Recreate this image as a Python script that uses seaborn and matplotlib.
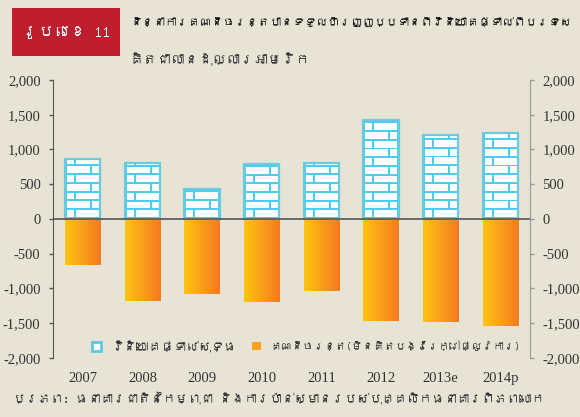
import numpy as np
import pandas as pd
import matplotlib
matplotlib.use('Agg')
import matplotlib.pyplot as plt
import seaborn as sns
from matplotlib import font_manager
from matplotlib.ft2font import FT2Font
from matplotlib.patches import Rectangle, Patch
from matplotlib.colors import LinearSegmentedColormap
from matplotlib.ticker import FuncFormatter

# data (million USD)
years = ['2007', '2008', '2009', '2010', '2011', '2012', '2013e', '2014p']
fdi = [868, 801, 432, 791, 801, 1424, 1209, 1242]
current_acc = [-662, -1180, -1074, -1190, -1031, -1468, -1482, -1535]

fdi_label = 'វិនិយោគផ្ទាល់សុទ្ធ'
ca_label = 'គណនីចរន្ត(មិនគិតបង្វែរក្រៅផ្លូវការ)'
fig_label = 'រូបលេខ 11'
title = 'និន្នាការគណនីចរន្តបានទទួលហិរញ្ញប្បទានពីវិនិយោគផ្ទាល់ពីបរទេស'
unit = 'គិតជាលានដុល្លារអាមេរិក'
source = 'ប្រភព: ធនាគារជាតិនៃកម្ពុជា និងការប៉ាន់ស្មានរបស់បុគ្គលិកធនាគារពិភពលោក'

bg = '#E7E4D5'
sns.set_style('ticks', {'axes.facecolor': bg, 'figure.facecolor': bg})


def khmer_family():
    for f in font_manager.fontManager.ttflist:
        try:
            if 0x1780 in FT2Font(f.fname).get_charmap():
                return f.name
        except Exception:
            pass
    return None


kh = khmer_family()
kh_fam = [kh, 'DejaVu Sans'] if kh else ['DejaVu Sans']
num_font = 'Liberation Serif'

df = pd.DataFrame({
    'year': years * 2,
    'value': fdi + current_acc,
    'series': [fdi_label] * len(years) + [ca_label] * len(years),
})

fig = plt.figure(figsize=(5.8, 4.17), dpi=100)
fig.patch.set_facecolor(bg)
ax = fig.add_axes([0.0914, 0.1415, 0.8224, 0.6667])

sns.barplot(data=df, x='year', y='value', hue='series', hue_order=[fdi_label, ca_label],
            dodge=False, width=0.59, errorbar=None, legend=False, ax=ax)

row_h = 125
mortar = np.array([0.30, 0.80, 0.94])

def brick_img(nrows, pw=35, ph=9):
    img = np.ones((nrows * ph, pw, 3))
    for r in range(nrows):
        y0 = r * ph
        img[y0:y0 + 2, :] = mortar
        xs = 9 if r % 2 == 0 else 24
        img[y0:y0 + ph, xs:xs + 2] = mortar
    img[:, :2] = mortar
    img[:, -2:] = mortar
    return img

grad_cmap = LinearSegmentedColormap.from_list('og', ['#FFC412', '#F47A22'])

for p in ax.containers[0]:
    x0, w, h = p.get_x(), p.get_width(), p.get_height()
    n = int(np.ceil(h / row_h))
    im = ax.imshow(brick_img(n), extent=(x0, x0 + w, 0, n * row_h), origin='lower',
                   aspect='auto', interpolation='nearest', zorder=3)
    im.set_clip_path(p)
    p.set_facecolor('none')
    p.set_edgecolor('#6ACBE0')
    p.set_linewidth(1.6)
    p.set_zorder(4)

for p in ax.containers[1]:
    x0, y0, w, h = p.get_x(), p.get_y(), p.get_width(), p.get_height()
    im = ax.imshow(np.linspace(0, 1, 64).reshape(1, -1), cmap=grad_cmap,
                   extent=(x0, x0 + w, y0, y0 + h), aspect='auto', zorder=3)
    im.set_clip_path(p)
    p.set_facecolor('none')
    p.set_edgecolor('none')

ax.axhline(0, color='#555555', lw=1.2, zorder=5)

yt = [-2000, -1500, -1000, -500, 0, 500, 1000, 1500, 2000]
fmt = FuncFormatter(lambda v, pos: f'{int(v):,}')
ax.set_xlim(-0.5, 7.5)
ax.set_ylim(-2000, 2000)
ax.set_yticks(yt)
ax.yaxis.set_major_formatter(fmt)
ax.set_xlabel('')
ax.set_ylabel('')
for s in ['top', 'bottom', 'right']:
    ax.spines[s].set_visible(False)
ax.spines['left'].set_color('#555555')
ax.tick_params(axis='y', direction='out', length=3, width=1, color='#555555',
               labelsize=10.5, labelcolor='#333333', pad=6)
ax.tick_params(axis='x', length=0, labelsize=10.5, labelcolor='#333333', pad=10)
for t in ax.get_xticklabels() + ax.get_yticklabels():
    t.set_family(num_font)

ax2 = ax.twinx()
ax2.set_ylim(-2000, 2000)
ax2.set_yticks(yt)
ax2.yaxis.set_major_formatter(fmt)
for s in ['top', 'bottom', 'left']:
    ax2.spines[s].set_visible(False)
ax2.spines['right'].set_color('#999999')
ax2.tick_params(axis='y', direction='out', length=3, width=1, color='#999999',
                labelsize=10.5, labelcolor='#333333', pad=6)
for t in ax2.get_yticklabels():
    t.set_family(num_font)

# legend
h1 = Patch(facecolor='white', edgecolor='#5CC8E6', linewidth=2)
h2 = Patch(facecolor='#F9A11C', edgecolor='none')
l1 = fig.legend(handles=[h1], labels=[fdi_label], loc='center left',
                bbox_to_anchor=(0.14, 0.17), frameon=False, handlelength=0.7,
                handleheight=0.7, handletextpad=0.8, prop={'family': kh_fam, 'size': 9})
l2 = fig.legend(handles=[h2], labels=[ca_label], loc='center left',
                bbox_to_anchor=(0.415, 0.17), frameon=False, handlelength=0.7,
                handleheight=0.7, handletextpad=0.8, prop={'family': kh_fam, 'size': 9})
for l in (l1, l2):
    for t in l.get_texts():
        t.set_color('#333333')

# header
fig.patches.append(Rectangle((0.0207, 0.8657), 0.186, 0.115, transform=fig.transFigure,
                             facecolor='#BE1E2D', edgecolor='none'))
t_lab = fig.text(0.114, 0.923, fig_label, color='white', ha='center', va='center',
                 fontsize=12, family=kh_fam)
t_title = fig.text(0.224, 0.947, title, color='#111111', ha='left', va='center',
                   fontsize=11, fontweight='bold', family=kh_fam)
t_unit = fig.text(0.224, 0.856, unit, color='#333333', ha='left', va='center',
                  fontsize=10, family=kh_fam)
t_src = fig.text(0.022, 0.046, source, color='#333333', ha='left', va='center',
                 fontsize=9, family=kh_fam)

# Khmer text is laid out without shaping, so fit each text into the room it has
renderer = fig.canvas.get_renderer()
def fit(t, px):
    wid = t.get_window_extent(renderer).width
    if wid > px:
        t.set_fontsize(t.get_fontsize() * px / wid)

fit(t_lab, 88)
fit(t_title, 440)
fit(t_unit, 220)
fit(t_src, 555)
fit(l1.get_texts()[0], 130)
fit(l2.get_texts()[0], 250)

fig.savefig('out.png', dpi=100, facecolor=bg)
